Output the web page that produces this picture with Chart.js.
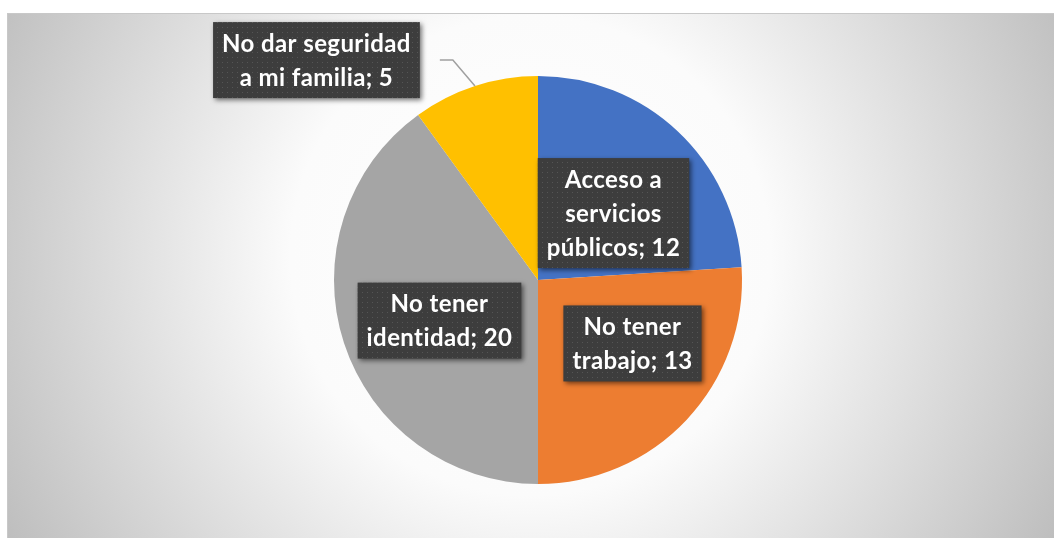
<!DOCTYPE html>
<html>
<head>
<meta charset="utf-8">
<script src="https://cdn.jsdelivr.net/npm/chart.js@4"></script>
<style>
  html, body { margin: 0; padding: 0; background: #ffffff; }
  canvas { display: block; }
</style>
</head>
<body>
<canvas id="c" width="1054" height="538"></canvas>
<script>
// ---- data ----
const categories = ['Acceso a servicios públicos', 'No tener trabajo', 'No tener identidad', 'No dar seguridad a mi familia'];
const values = [12, 13, 20, 5];
const colors = ['#4472C4', '#ED7D31', '#A5A5A5', '#FFC000'];
const labelLines = [
  ['Acceso a', 'servicios', 'públicos; ' + values[0]],
  ['No tener', 'trabajo; ' + values[1]],
  ['No tener', 'identidad; ' + values[2]],
  ['No dar seguridad', 'a mi familia; ' + values[3]]
];
// label box centre, in radius units relative to pie centre
const labelPos = [[0.370, -0.328], [0.463, 0.311], [-0.483, 0.199], [-1.086, -1.078]];
const labelLeader = [false, false, false, true];

// dotted pattern for label boxes
function makePattern(ctx) {
  const p = document.createElement('canvas');
  p.width = 5; p.height = 5;
  const pc = p.getContext('2d');
  pc.fillStyle = '#3d3d3d';
  pc.fillRect(0, 0, 5, 5);
  pc.fillStyle = '#555555';
  pc.fillRect(2, 2, 1, 1);
  return ctx.createPattern(p, 'repeat');
}

const bgPlugin = {
  id: 'bg',
  beforeDraw(chart) {
    const ctx = chart.ctx;
    const x0 = 7, y0 = 13, x1 = chart.width, y1 = chart.height;
    const cx = (x0 + x1) / 2, cy = (y0 + y1) / 2;
    ctx.save();
    const g = ctx.createRadialGradient(cx, cy - 20, 0, cx, cy - 20, 600);
    g.addColorStop(0, '#ffffff');
    g.addColorStop(0.4, '#fbfbfb');
    g.addColorStop(1, '#bdbdbd');
    ctx.fillStyle = g;
    ctx.fillRect(x0, y0, x1 - x0, y1 - y0);
    ctx.strokeStyle = '#c8c8c8';
    ctx.lineWidth = 1;
    ctx.strokeRect(x0 + 0.5, y0 + 0.5, x1 - x0, y1 - y0);
    ctx.restore();
  }
};

const labelPlugin = {
  id: 'boxLabels',
  afterDatasetsDraw(chart) {
    const ctx = chart.ctx;
    const meta = chart.getDatasetMeta(0);
    const pattern = makePattern(ctx);
    const fontSize = 24, lineH = 34, padX = 9, padY = 4;
    ctx.save();
    ctx.font = 'bold ' + fontSize + 'px Lato, "DejaVu Sans", sans-serif';
    if ('letterSpacing' in ctx) ctx.letterSpacing = '0.4px';
    meta.data.forEach((arc, i) => {
      const p = arc.getProps(['x', 'y', 'startAngle', 'endAngle', 'outerRadius'], true);
      const r = p.outerRadius;
      const lines = labelLines[i];
      let w = 0;
      lines.forEach(l => { w = Math.max(w, ctx.measureText(l).width); });
      const bw = w + padX * 2, bh = lines.length * lineH + padY * 2;
      const lx = p.x + labelPos[i][0] * r, ly = p.y + labelPos[i][1] * r;
      const bx = lx - bw / 2, by = ly - bh / 2;
      if (labelLeader[i]) {
        const mid = (p.startAngle + p.endAngle) / 2;
        const ex = p.x + Math.cos(mid) * r, ey = p.y + Math.sin(mid) * r;
        const sx = bx + bw + 20;
        ctx.strokeStyle = '#a0a0a0';
        ctx.lineWidth = 1.5;
        ctx.beginPath();
        ctx.moveTo(sx, ly);
        ctx.lineTo(sx + 13, ly);
        ctx.lineTo(ex, ey);
        ctx.stroke();
      }
      ctx.save();
      ctx.shadowColor = 'rgba(0,0,0,0.55)';
      ctx.shadowBlur = 5;
      ctx.shadowOffsetX = 2;
      ctx.shadowOffsetY = 2;
      ctx.fillStyle = pattern;
      ctx.fillRect(bx, by, bw, bh);
      ctx.restore();
      ctx.fillStyle = '#ffffff';
      ctx.textAlign = 'center';
      ctx.textBaseline = 'middle';
      lines.forEach((l, k) => {
        ctx.fillText(l, lx, by + padY + lineH * (k + 0.5) + 1);
      });
    });
    ctx.restore();
  }
};

new Chart(document.getElementById('c'), {
  type: 'pie',
  data: {
    labels: categories,
    datasets: [{
      data: values,
      backgroundColor: colors,
      borderWidth: 0
    }]
  },
  options: {
    responsive: false,
    animation: false,
    layout: { padding: { left: 22, right: 0, top: 76, bottom: 54 } },
    plugins: {
      legend: { display: false },
      tooltip: { enabled: false }
    }
  },
  plugins: [bgPlugin, labelPlugin]
});
</script>
</body>
</html>
